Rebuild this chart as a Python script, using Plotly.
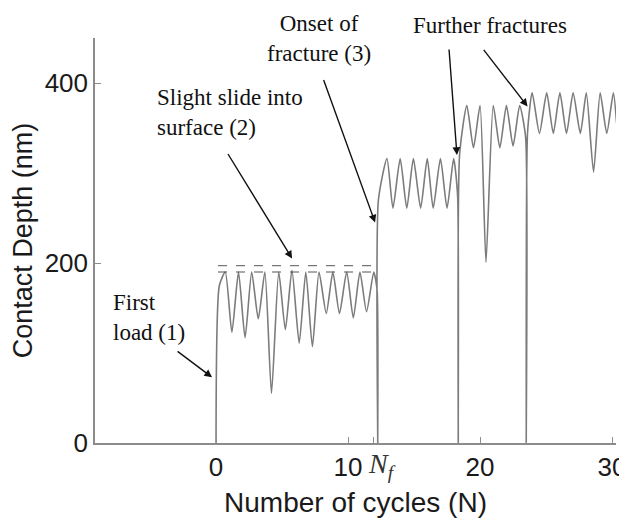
import plotly.graph_objects as go

cycles = [
    0, 0.25, 0.7, 1.2, 1.7, 2.2, 2.7, 3.2, 3.7, 4.2, 4.75, 5.25, 5.75, 6.3,
    6.8, 7.3, 7.8, 8.35, 8.85, 9.35, 9.9, 10.4, 10.9, 11.4, 11.95, 12.2,
    12.25, 12.3, 12.95, 13.4, 13.95, 14.45, 14.95, 15.5, 16.0, 16.45, 17.0,
    17.5, 18.0, 18.3, 18.35, 18.45, 19.0, 19.5, 20.0, 20.45, 21.0, 21.5,
    22.0, 22.5, 23.0, 23.45, 23.5, 23.6, 23.95, 24.5, 25.05, 25.55, 26.05,
    26.55, 27.05, 27.6, 28.05, 28.6, 29.1, 29.6, 30.1, 30.35,
]
depth = [
    0, 175, 190, 123, 190, 117, 190, 138, 190, 55, 190, 126, 192, 111,
    190, 107, 190, 144, 190, 144, 190, 139, 190, 146, 190, 170,
    0, 270, 316, 261, 316, 261, 316, 261, 316, 261, 316,
    261, 316, 275, 0, 320, 375, 328, 375, 201, 375, 328,
    375, 330, 375, 340, 0, 345, 389, 344, 389, 344, 389,
    344, 389, 344, 389, 301, 389, 344, 389, 355,
]

# dashed reference levels for stage (2)
slide_levels = [197, 190]
slide_span = [0.15, 12.3]

tick_vals = [0, 10, 20, 30]
y_ticks = [0, 200, 400]

serif = "Liberation Serif, Times New Roman, serif"
sans = "Liberation Sans, Arial, sans-serif"

fig = go.Figure()
fig.add_trace(go.Scatter(x=cycles, y=depth, mode="lines",
                         line=dict(color="#7c7c7c", width=1.6, shape="spline", smoothing=0.6),
                         hoverinfo="skip"))
for lvl in slide_levels:
    fig.add_trace(go.Scatter(x=slide_span, y=[lvl, lvl], mode="lines",
                             line=dict(color="#555555", width=1, dash="dash"),
                             hoverinfo="skip"))

# arrows: (head x, head y, tail offset px)
arrows = [
    (-0.3, 73, -36, -27),
    (5.76, 205, -65, -106),
    (12.05, 245, -52, -144),
    (18.25, 320, -8, -107),
    (23.6, 374, -45, -58),
]
for hx, hy, ax, ay in arrows:
    fig.add_annotation(x=hx, y=hy, ax=ax, ay=ay, text="", showarrow=True,
                       arrowhead=2, arrowsize=1.1, arrowwidth=1.4,
                       arrowcolor="#111111")

# stage labels, positions in paper units
labels = [
    (0.031, 0.309, "First<br>load (1)", "left"),
    (0.115, 0.815, "Slight slide into<br>surface (2)", "left"),
    (0.43, 1.0, "Onset of<br>fracture (3)", "center"),
    (0.758, 1.032, "Further fractures", "center"),
]
for lx, ly, txt, anchor in labels:
    fig.add_annotation(x=lx, y=ly, xref="paper", yref="paper", text=txt,
                       showarrow=False, xanchor=anchor, yanchor="middle", align=anchor,
                       font=dict(family=serif, size=23, color="#111111"))

# N_f label beside its tick
fig.add_annotation(x=12.55, y=-0.055, yref="paper", yanchor="middle",
                   text="<i>N<sub>f</sub></i>", showarrow=False,
                   font=dict(family=serif, size=28, color="#333333"))

# page body adds an 8px offset, so the figure is drawn 8px smaller
fig.update_layout(
    width=619, height=510,
    margin=dict(l=87, r=11, t=30, b=75),
    plot_bgcolor="white", paper_bgcolor="white",
    showlegend=False,
    font=dict(family=sans, size=26, color="#1a1a1a"),
    xaxis=dict(range=[-9.17, 30.3], tickvals=tick_vals + [11.9],
               ticktext=[str(v) for v in tick_vals] + [""],
               ticks="inside", ticklen=6, tickcolor="#8c8c8c",
               showline=True, linecolor="#8c8c8c", linewidth=1.5,
               showgrid=False, zeroline=False, automargin=False,
               title=dict(text="Number of cycles (N)", standoff=21,
                          font=dict(size=28))),
    yaxis=dict(range=[0, 450], tickvals=y_ticks,
               ticks="inside", ticklen=6, tickcolor="#8c8c8c",
               showline=True, linecolor="#8c8c8c", linewidth=1.5,
               showgrid=False, zeroline=False, automargin=False,
               title=dict(text="Contact Depth (nm)", standoff=6,
                          font=dict(size=27))),
)

fig.write_html("out.html")
